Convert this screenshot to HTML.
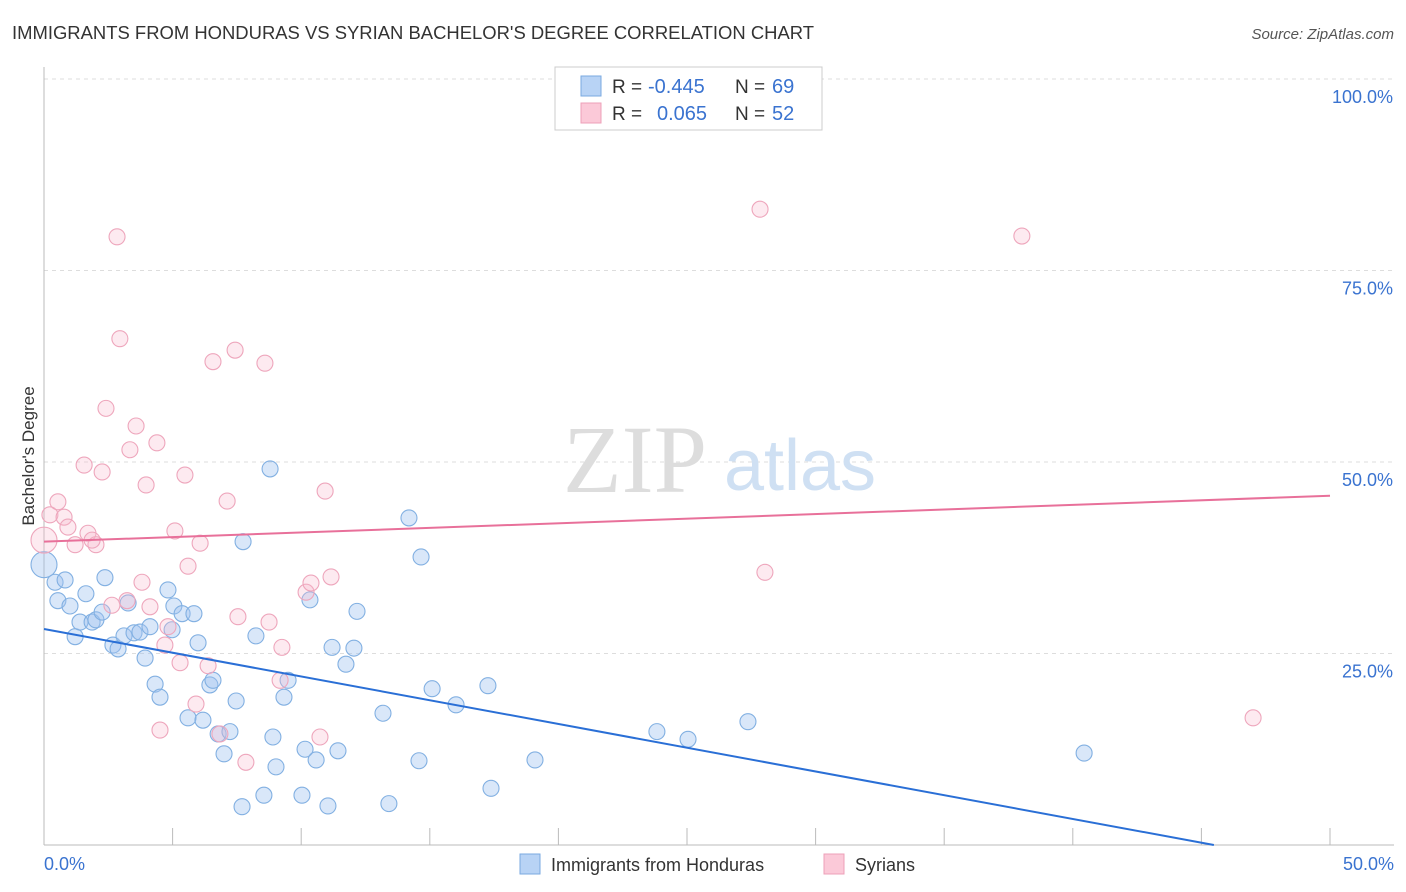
<!DOCTYPE html>
<html><head><meta charset="utf-8"><style>
body{margin:0;background:#fff;font-family:"Liberation Sans",sans-serif}
svg{display:block}
</style></head><body>
<svg id="chart" width="1406" height="892">
<text x="12" y="39" font-size="18" fill="#333" textLength="802" lengthAdjust="spacingAndGlyphs">IMMIGRANTS FROM HONDURAS VS SYRIAN BACHELOR'S DEGREE CORRELATION CHART</text>
<text x="1394" y="39" font-size="15" fill="#555" font-style="italic" text-anchor="end">Source: ZipAtlas.com</text>
<text x="0" y="0" transform="translate(34,456) rotate(-90)" font-size="17" fill="#333" text-anchor="middle">Bachelor's Degree</text>
<g id="grid"></g>
<g id="watermark">
<text x="635" y="492" font-size="96" font-family="Liberation Serif" fill="#ddd" text-anchor="middle">ZIP</text>
<text x="800" y="490" font-size="72" fill="#cfe0f3" text-anchor="middle">atlas</text>
</g>
<g id="points"></g>
<g id="trends"></g>
<g>
<rect x="555" y="67" width="267" height="63" fill="#fff" stroke="#ccc"/>
<rect x="581" y="76" width="20" height="20" fill="#b8d3f5" stroke="#7aaae0"/>
<rect x="581" y="103" width="20" height="20" fill="#fbc9d8" stroke="#eea0b8"/>
<text x="612" y="93" font-size="19" fill="#333">R =</text>
<text x="648" y="93" font-size="20" fill="#3a73d0">-0.445</text>
<text x="735" y="93" font-size="19" fill="#333">N =</text>
<text x="772" y="93" font-size="20" fill="#3a73d0">69</text>
<text x="612" y="120" font-size="19" fill="#333">R =</text>
<text x="657" y="120" font-size="20" fill="#3a73d0">0.065</text>
<text x="735" y="120" font-size="19" fill="#333">N =</text>
<text x="772" y="120" font-size="20" fill="#3a73d0">52</text>
</g>
<g>
<rect x="520" y="854" width="20" height="20" fill="#b8d3f5" stroke="#7aaae0"/>
<text x="551" y="871" font-size="18" fill="#333">Immigrants from Honduras</text>
<rect x="824" y="854" width="20" height="20" fill="#fbc9d8" stroke="#eea0b8"/>
<text x="855" y="871" font-size="18" fill="#333">Syrians</text>
</g>
</svg>
<script>
const xTicks=[0,5,10,15,20,25,30,35,40,45,50];
const yTicks=[25,50,75,100];
const yTickLabels=["25.0%","50.0%","75.0%","100.0%"];
const blueX=[0,0.43,0.82,0.54,1.01,1.21,1.63,1.40,1.87,2.02,2.26,2.37,2.68,2.88,3.11,3.27,3.50,3.73,3.93,4.12,4.32,4.51,4.82,5.05,4.98,5.37,5.60,5.83,5.99,6.18,6.45,6.57,6.77,7.00,7.23,7.47,7.70,7.74,8.24,8.55,8.79,8.90,9.02,9.33,9.49,10.03,10.15,10.34,10.58,11.04,11.20,11.43,11.74,12.05,12.17,13.18,13.41,14.19,14.58,14.66,15.09,16.02,17.26,17.38,19.09,23.83,25.04,27.37,40.44];
const blueY=[36.6,34.3,34.6,31.9,31.2,27.2,32.8,29.1,29.1,29.4,30.4,34.9,26.1,25.6,27.3,31.6,27.7,27.8,24.4,28.5,21.0,19.3,33.3,31.2,28.1,30.2,16.6,30.2,26.4,16.3,20.9,21.5,14.5,11.9,14.8,18.8,5.0,39.6,27.3,6.5,49.1,14.1,10.2,19.3,21.5,6.5,12.5,32.0,11.1,5.1,25.8,12.3,23.6,25.7,30.5,17.2,5.4,42.7,11.0,37.6,20.4,18.3,20.8,7.4,11.1,14.8,13.8,16.1,12.0];
const pinkX=[0,0.23,0.54,0.78,0.93,1.21,1.56,1.71,2.02,1.87,2.26,2.41,2.64,2.84,2.95,3.23,3.34,3.58,3.81,3.97,4.12,4.39,4.51,4.70,4.82,5.09,5.29,5.48,5.60,5.91,6.07,6.38,6.57,6.84,7.12,7.43,7.54,7.85,8.59,8.75,9.25,9.18,10.19,10.38,10.73,10.93,11.16,27.84,28.03,38.02,47.01];
const pinkY=[39.8,43.1,44.8,42.8,41.5,39.2,49.6,40.7,39.2,39.8,48.7,57.0,31.3,79.4,66.1,31.9,51.6,54.7,34.3,47.0,31.1,52.5,15.0,26.1,28.5,41.0,23.8,48.3,36.4,18.4,39.4,23.4,63.1,14.5,44.9,64.6,29.8,10.8,62.9,29.1,25.8,21.5,33.0,34.2,14.1,46.2,35.0,83.0,35.6,79.5,16.6];
const blueTrend=[28.2,-0.62];
const pinkTrend=[39.6,0.12];
const NS="http://www.w3.org/2000/svg";
const xs=v=>44+v*25.72, ys=v=>845-v*7.66;
function mk(t,a,p){const e=document.createElementNS(NS,t);for(const k in a)e.setAttribute(k,a[k]);p.appendChild(e);return e;}
const grid=document.getElementById('grid');
yTicks.forEach((t,i)=>{
 const l=mk('line',{x1:44,x2:1394,y1:ys(t),y2:ys(t),stroke:'#ddd','stroke-dasharray':'4,4'},grid);
 
 
 const tx=mk('text',{x:1393,y:ys(t)+24,'font-size':18,fill:'#3a73d0','text-anchor':'end'},grid);
 tx.textContent=yTickLabels[i];
 
 
});
const ax=mk('line',{x1:44,x2:1394,y1:845,y2:845,stroke:'#bbb'},grid);


const ay=mk('line',{x1:44,x2:44,y1:67,y2:845,stroke:'#bbb'},grid);


xTicks.forEach(t=>{
 const l=mk('line',{x1:xs(t),x2:xs(t),y1:828,y2:845,stroke:'#bbb'},grid);
 
 
});
[[0,"0.0%",'start',44],[50,"50.0%",'end',1394]].forEach(d=>{
 const tx=mk('text',{x:d[3],y:870,'font-size':18,fill:'#3a73d0','text-anchor':d[2]},grid);
 tx.textContent=d[1];
 
 
});
const pts=document.getElementById('points');
blueX.forEach((x,i)=>{
 const c=mk('circle',{cx:xs(x),cy:ys(blueY[i]),r:i==0?13:8,fill:'rgba(160,196,240,0.4)',stroke:'#82b0e2','stroke-width':1.1},pts);
 
 
});
pinkX.forEach((x,i)=>{
 const c=mk('circle',{cx:xs(x),cy:ys(pinkY[i]),r:i==0?13:8,fill:'rgba(248,185,205,0.3)',stroke:'#eea6bc','stroke-width':1.1},pts);
 
 
});
const tr=document.getElementById('trends');
const bEnd=Math.min(50,-blueTrend[0]/blueTrend[1]);
const bl=mk('line',{x1:xs(0),y1:ys(blueTrend[0]),x2:xs(bEnd),y2:ys(blueTrend[0]+blueTrend[1]*bEnd),stroke:'#2a6fd6','stroke-width':2},tr);


const pl=mk('line',{x1:xs(0),y1:ys(pinkTrend[0]),x2:xs(50),y2:ys(pinkTrend[0]+pinkTrend[1]*50),stroke:'#e8709a','stroke-width':2},tr);


</script>
</body></html>
